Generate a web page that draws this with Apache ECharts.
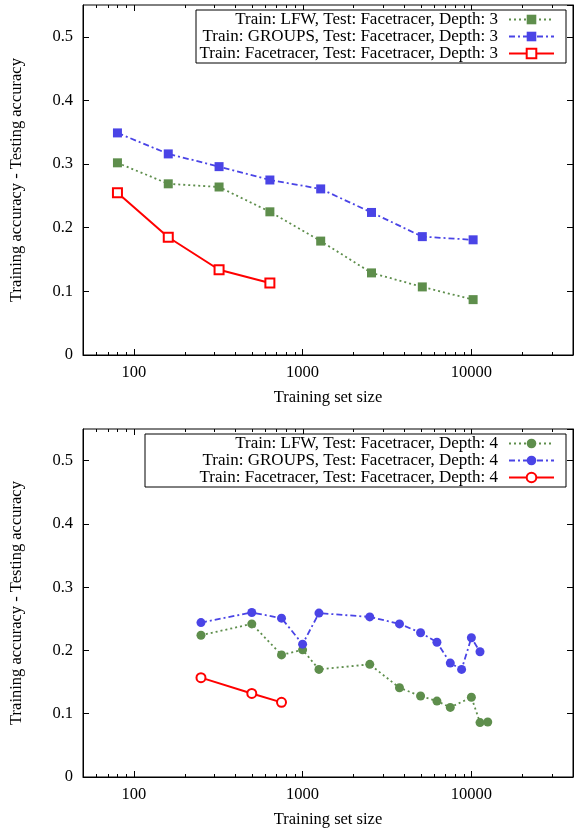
<!DOCTYPE html>
<html>
<head>
<meta charset="utf-8">
<script src="https://cdn.jsdelivr.net/npm/echarts@6/dist/echarts.min.js"></script>
<style>
html, body { margin: 0; padding: 0; background: #fff; }
#chart { width: 574px; height: 829px; }
</style>
</head>
<body>
<div id="chart"></div>
<script>
// depth 3 (top panel)
var sizes3 = [80, 160, 320, 640, 1280, 2560, 5120, 10240];
var lfw3 = [0.302, 0.269, 0.264, 0.225, 0.179, 0.129, 0.107, 0.087];
var groups3 = [0.349, 0.316, 0.296, 0.275, 0.261, 0.224, 0.186, 0.181];
var ftSizes3 = [80, 160, 320, 640];
var ft3 = [0.255, 0.185, 0.134, 0.113];

// depth 4 (bottom panel)
var lfwSizes4 = [250, 500, 750, 1000, 1250, 2500, 3750, 5000, 6250, 7500, 10000, 11250, 12500];
var lfw4 = [0.224, 0.242, 0.193, 0.201, 0.170, 0.178, 0.141, 0.128, 0.120, 0.110, 0.126, 0.086, 0.087];
var groupsSizes4 = [250, 500, 750, 1000, 1250, 2500, 3750, 5000, 6250, 7500, 8750, 10000, 11250];
var groups4 = [0.244, 0.260, 0.251, 0.210, 0.259, 0.253, 0.242, 0.228, 0.213, 0.180, 0.170, 0.220, 0.198];
var ftSizes4 = [250, 500, 750];
var ft4 = [0.157, 0.132, 0.118];

var majorTicks = [100, 1000, 10000];
var minorTicks = [60, 70, 80, 90, 200, 300, 400, 500, 600, 700, 800, 900,
    2000, 3000, 4000, 5000, 6000, 7000, 8000, 9000, 20000, 30000];

var names3 = [
    'Train: LFW, Test: Facetracer, Depth: 3',
    'Train: GROUPS, Test: Facetracer, Depth: 3',
    'Train: Facetracer, Test: Facetracer, Depth: 3'
];
var names4 = [
    'Train: LFW, Test: Facetracer, Depth: 4',
    'Train: GROUPS, Test: Facetracer, Depth: 4',
    'Train: Facetracer, Test: Facetracer, Depth: 4'
];

var FONT = "'Liberation Serif', 'Times New Roman', serif";
var GREEN = '#5e8e4c';
var BLUE = '#4a44e6';
var RED = '#ff0000';
var X_MIN = 50, X_MAX = 40000, Y_MIN = 0, Y_MAX = 0.55;

function zip(xs, ys) {
    return xs.map(function (x, i) { return [x, ys[i]]; });
}

function xAxis(gi) {
    return {
        type: 'log', logBase: 10, min: X_MIN, max: X_MAX, gridIndex: gi,
        position: 'bottom',
        name: 'Training set size',
        nameLocation: 'middle',
        nameGap: 34,
        nameTextStyle: { fontFamily: FONT, fontSize: 16.5, color: '#000' },
        axisLine: { lineStyle: { color: '#000', width: 1 } },
        axisTick: { inside: true, length: 6, lineStyle: { color: '#000' } },
        splitLine: { show: false },
        axisLabel: {
            fontFamily: FONT, fontSize: 16.5, color: '#000', margin: 9,
            showMinLabel: false, showMaxLabel: false,
            formatter: function (v) { return String(Math.round(v)); }
        }
    };
}

function yAxes(gi) {
    var base = {
        type: 'value', min: Y_MIN, max: Y_MAX, interval: 0.1, gridIndex: gi,
        axisLine: { show: true, lineStyle: { color: '#000', width: 1 } },
        axisTick: { show: true, inside: true, length: 6, lineStyle: { color: '#000' } },
        splitLine: { show: false }
    };
    var left = Object.assign({}, base, {
        position: 'left',
        name: 'Training accuracy - Testing accuracy',
        nameLocation: 'middle',
        nameGap: 58,
        nameTextStyle: { fontFamily: FONT, fontSize: 16.5, color: '#000' },
        axisLabel: {
            fontFamily: FONT, fontSize: 16.5, color: '#000', margin: 10,
            showMaxLabel: false
        }
    });
    var right = Object.assign({}, base, { position: 'right', axisLabel: { show: false } });
    return [left, right];
}

function lineSeries(name, data, axisIdx, color, dash, symbol, filled, width) {
    return {
        name: name,
        type: 'line',
        xAxisIndex: axisIdx,
        yAxisIndex: axisIdx * 2,
        data: data,
        symbol: symbol,
        symbolSize: 9,
        showSymbol: true,
        color: color,
        lineStyle: { color: color, width: width, type: dash },
        itemStyle: filled
            ? { color: color, borderWidth: 0 }
            : { color: '#fff', borderColor: color, borderWidth: 2 },
        emphasis: { disabled: true },
        animation: false,
        z: 3
    };
}

function legend(names, top, padLeft) {
    return {
        orient: 'vertical',
        right: 8,
        top: top,
        align: 'right',
        data: names,
        itemWidth: 45,
        itemHeight: 12,
        itemGap: 0,
        padding: [1, 11, 1, padLeft],
        borderColor: '#000',
        borderWidth: 1,
        backgroundColor: '#fff',
        selectedMode: false,
        z: 10,
        textStyle: {
            fontFamily: FONT, fontSize: 17, color: '#000', lineHeight: 15,
            width: 300, align: 'right', padding: [0, 6, 0, 0]
        }
    };
}

var chart = echarts.init(document.getElementById('chart'));
var option = {
    backgroundColor: '#fff',
    animation: false,
    grid: [
        { left: 83, right: 1, top: 5, height: 350, show: true, borderColor: '#000', borderWidth: 1, backgroundColor: 'transparent' },
        { left: 83, right: 1, top: 429, height: 350, show: true, borderColor: '#000', borderWidth: 1, backgroundColor: 'transparent' }
    ],
    xAxis: [xAxis(0), xAxis(1)],
    yAxis: yAxes(0).concat(yAxes(1)),
    legend: [legend(names3, 10, 2), legend(names4, 434, 53)],
    series: [
        lineSeries(names3[0], zip(sizes3, lfw3), 0, GREEN, [2, 3], 'rect', true, 1.8),
        lineSeries(names3[1], zip(sizes3, groups3), 0, BLUE, [6, 3, 2, 3], 'rect', true, 1.8),
        lineSeries(names3[2], zip(ftSizes3, ft3), 0, RED, 'solid', 'rect', false, 2),
        lineSeries(names4[0], zip(lfwSizes4, lfw4), 1, GREEN, [2, 3], 'circle', true, 1.8),
        lineSeries(names4[1], zip(groupsSizes4, groups4), 1, BLUE, [6, 3, 2, 3], 'circle', true, 1.8),
        lineSeries(names4[2], zip(ftSizes4, ft4), 1, RED, 'solid', 'circle', false, 2)
    ]
};
chart.setOption(option);

// log minor ticks + mirrored top ticks, placed through the axis scales
function tickLine(x, y1, y2) {
    x = Math.round(x) + 0.5;
    return {
        type: 'line', silent: true, z: 5,
        shape: { x1: x, y1: y1, x2: x, y2: y2 },
        style: { stroke: '#000', lineWidth: 1 }
    };
}
var ticks = [];
[0, 1].forEach(function (gi) {
    var yB = Math.round(chart.convertToPixel({ yAxisIndex: gi * 2 }, Y_MIN));
    var yT = Math.round(chart.convertToPixel({ yAxisIndex: gi * 2 }, Y_MAX));
    majorTicks.forEach(function (v) {
        var x = chart.convertToPixel({ xAxisIndex: gi }, v);
        ticks.push(tickLine(x, yT, yT + 6));
    });
    minorTicks.forEach(function (v) {
        var x = chart.convertToPixel({ xAxisIndex: gi }, v);
        ticks.push(tickLine(x, yT, yT + 3));
        ticks.push(tickLine(x, yB, yB - 3));
    });
});
chart.setOption({ graphic: { elements: ticks } });
</script>
</body>
</html>
